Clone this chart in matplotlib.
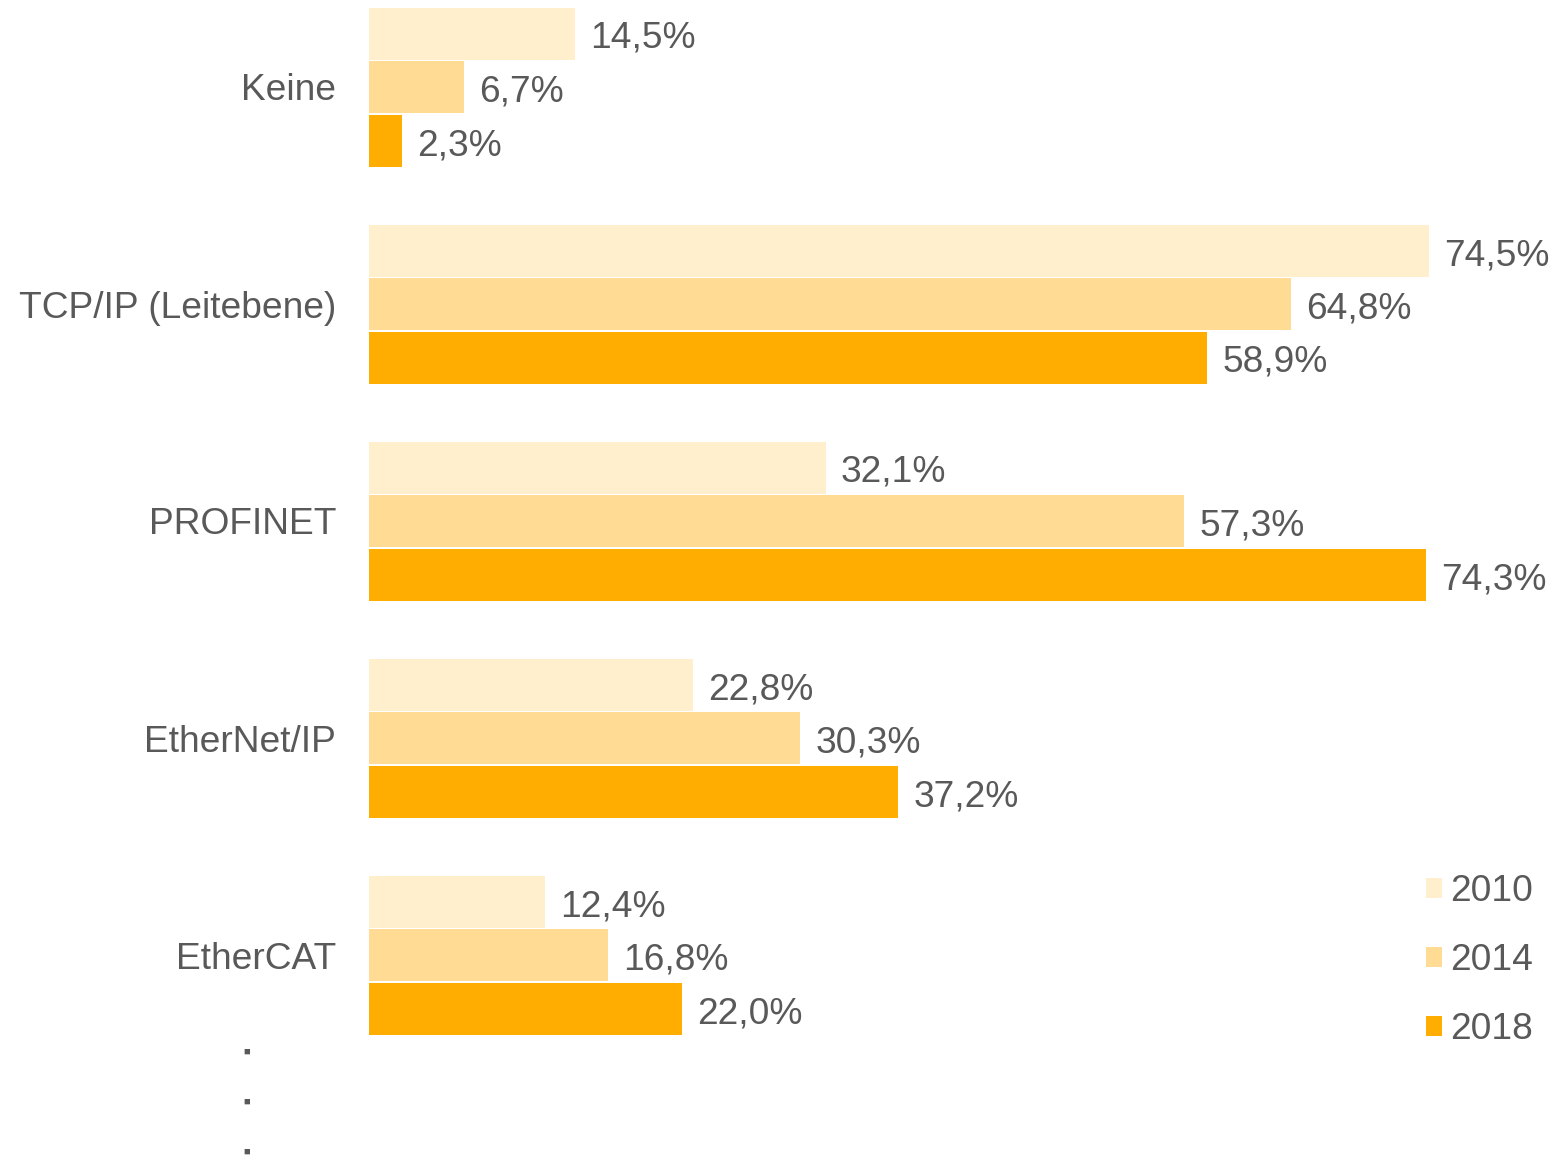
import matplotlib
matplotlib.use("Agg")
import matplotlib.pyplot as plt
import numpy as np

categories = ["Keine", "TCP/IP (Leitebene)", "PROFINET", "EtherNet/IP", "EtherCAT"]
years = ["2010", "2014", "2018"]
v2010 = [14.5, 74.5, 32.1, 22.8, 12.4]
v2014 = [6.7, 64.8, 57.3, 30.3, 16.8]
v2018 = [2.3, 58.9, 74.3, 37.2, 22.0]
series = [v2010, v2014, v2018]
colors = ["#FFEFCC", "#FFDB94", "#FFAD00"]
text_color = "#595959"

plt.rcParams['font.family'] = ['Liberation Sans', 'DejaVu Sans']
W, H = 1564, 1160
fig = plt.figure(figsize=(W / 100, H / 100), dpi=100)
ax_left = 369 / W
xmax = 80
ax_w = xmax * (1060 / 74.5) / W
ax = fig.add_axes([ax_left, 0, ax_w, 1])

y = np.arange(len(categories))
step = 53.5 / 217
bh = 52 / 217
fs = 26.7
for k, (vals, col, yr) in enumerate(zip(series, colors, years)):
    pos = y + (k - 1) * step
    ax.barh(pos, vals, height=bh, color=col, label=yr, linewidth=0)
    for p, v in zip(pos, vals):
        ax.annotate(f"{v:.1f}%".replace(".", ","), xy=(v, p), xytext=(15, -5),
                    textcoords="offset pixels", va="center", ha="left",
                    fontsize=fs, color=text_color)

ax.set_xlim(0, xmax)
ax.set_ylim((H - 87) / 217, -87 / 217)
ax.set_yticks(y)
ax.set_yticklabels(categories, fontsize=fs, color=text_color)
ax.tick_params(axis='y', length=0, pad=33 * 72 / 100)
ax.set_xticks([])
for s in ax.spines.values():
    s.set_visible(False)

leg = fig.legend(loc="upper left", bbox_to_anchor=(1426 / W, 1 - 874 / H),
                 frameon=False, fontsize=fs, handlelength=0.44, handleheight=0.44,
                 handletextpad=0.2, labelspacing=0.92, borderaxespad=0,
                 borderpad=0)
for t in leg.get_texts():
    t.set_color(text_color)

for yy in [1052, 1102, 1152]:
    fig.text(247 / W, 1 - yy / H, "■", fontsize=8, color=text_color,
             ha="center", va="center")

fig.savefig("out.png", dpi=100)
